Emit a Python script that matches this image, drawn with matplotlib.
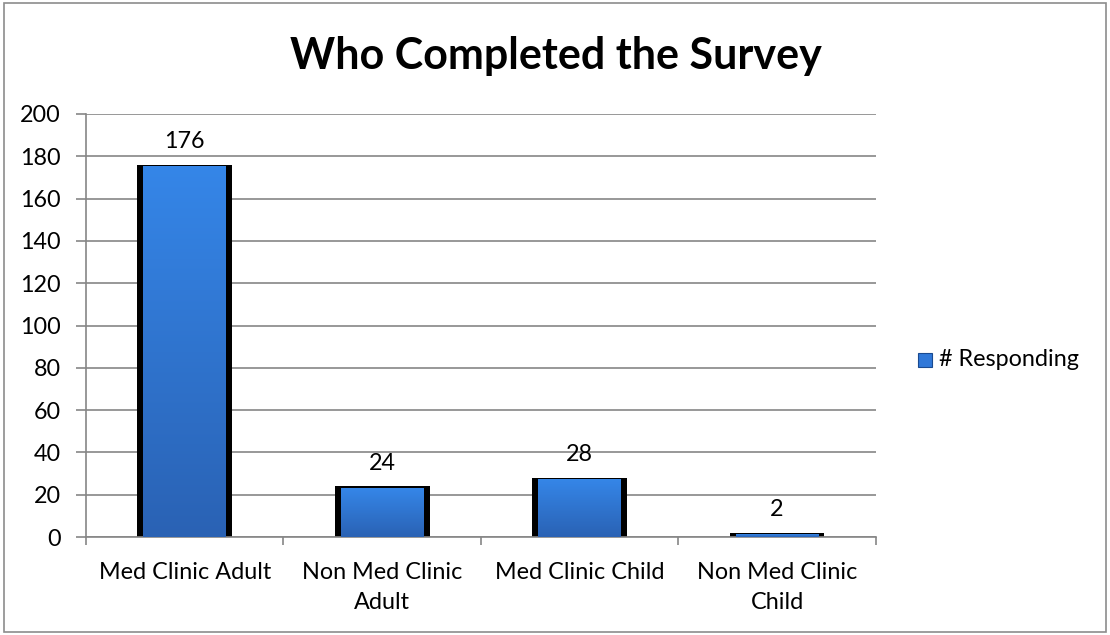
import matplotlib
matplotlib.use("Agg")
import matplotlib.pyplot as plt
import numpy as np
from matplotlib.patches import Rectangle
from matplotlib.colors import LinearSegmentedColormap

categories = ["Med Clinic Adult", "Non Med Clinic\nAdult", "Med Clinic Child", "Non Med Clinic\nChild"]
values = [176, 24, 28, 2]
series_name = "# Responding"
yticks = [0, 20, 40, 60, 80, 100, 120, 140, 160, 180, 200]
title = "Who Completed the Survey"

plt.rcParams['font.family'] = ['Lato', 'DejaVu Sans']
FS = 16.8

fig = plt.figure(figsize=(11.1, 6.35), dpi=100)
fig.patch.set_facecolor('white')
# outer border
fig.add_artist(Rectangle((0.004, 0.004), 0.992, 0.992, transform=fig.transFigure,
                         fill=False, edgecolor='#8c8c8c', linewidth=1.2))

ax = fig.add_axes([0.0775, 0.1543, 0.7115, 0.6662])
x = np.arange(len(values))
outer_w = 0.48
inner_w = 0.42

# black shadow bars
ax.bar(x, values, width=outer_w, color='black', zorder=2)
# blue gradient inner bars
grad = np.linspace(0, 1, 256).reshape(-1, 1)
cmap = LinearSegmentedColormap.from_list('b', ['#2a62b4', '#3586e8'])
for xi, v in zip(x, values):
    ax.imshow(grad, extent=(xi - inner_w / 2, xi + inner_w / 2, 0, v - min(1.0, v * 0.3)),
              aspect='auto', cmap=cmap, origin='lower', zorder=3, interpolation='bilinear')
    ax.text(xi, v + 6, str(v), ha='center', va='bottom', fontsize=FS, color='black', zorder=5)
ax.set_aspect('auto')
ax.set_xlim(-0.5, len(values) - 0.5)
ax.set_ylim(0, 200)

ax.set_yticks(yticks)
ax.set_yticklabels([str(t) for t in yticks], fontsize=FS)
ax.yaxis.grid(True, color='#868686', linewidth=1.2, zorder=0)
ax.set_axisbelow(True)
ax.set_xticks(x)
ax.set_xticklabels(categories, fontsize=FS, linespacing=1.55)
ax.set_xticks(np.arange(-0.5, len(values), 1), minor=True)
ax.tick_params(axis='x', which='major', length=0, pad=18)
ax.tick_params(axis='x', which='minor', length=6, color='#868686', width=1.2, direction='out')
ax.tick_params(axis='y', length=7, color='#868686', width=1.2, direction='out', pad=11)
for s in ['top', 'right']:
    ax.spines[s].set_visible(False)
for s in ['left', 'bottom']:
    ax.spines[s].set_color('#868686')
    ax.spines[s].set_linewidth(1.2)

fig.text(0.501, 0.912, title, ha='center', va='center', fontsize=31, fontweight='bold')

# legend
fig.add_artist(Rectangle((918 / 1110, 1 - 367 / 635), 14 / 1110, 14 / 635,
                         transform=fig.transFigure, facecolor='#3078d8', edgecolor='#1a4a90', linewidth=0.8))
fig.text(939 / 1110, 1 - 360 / 635, series_name, ha='left', va='center', fontsize=FS)

fig.savefig('out.png', dpi=100, facecolor='white')
